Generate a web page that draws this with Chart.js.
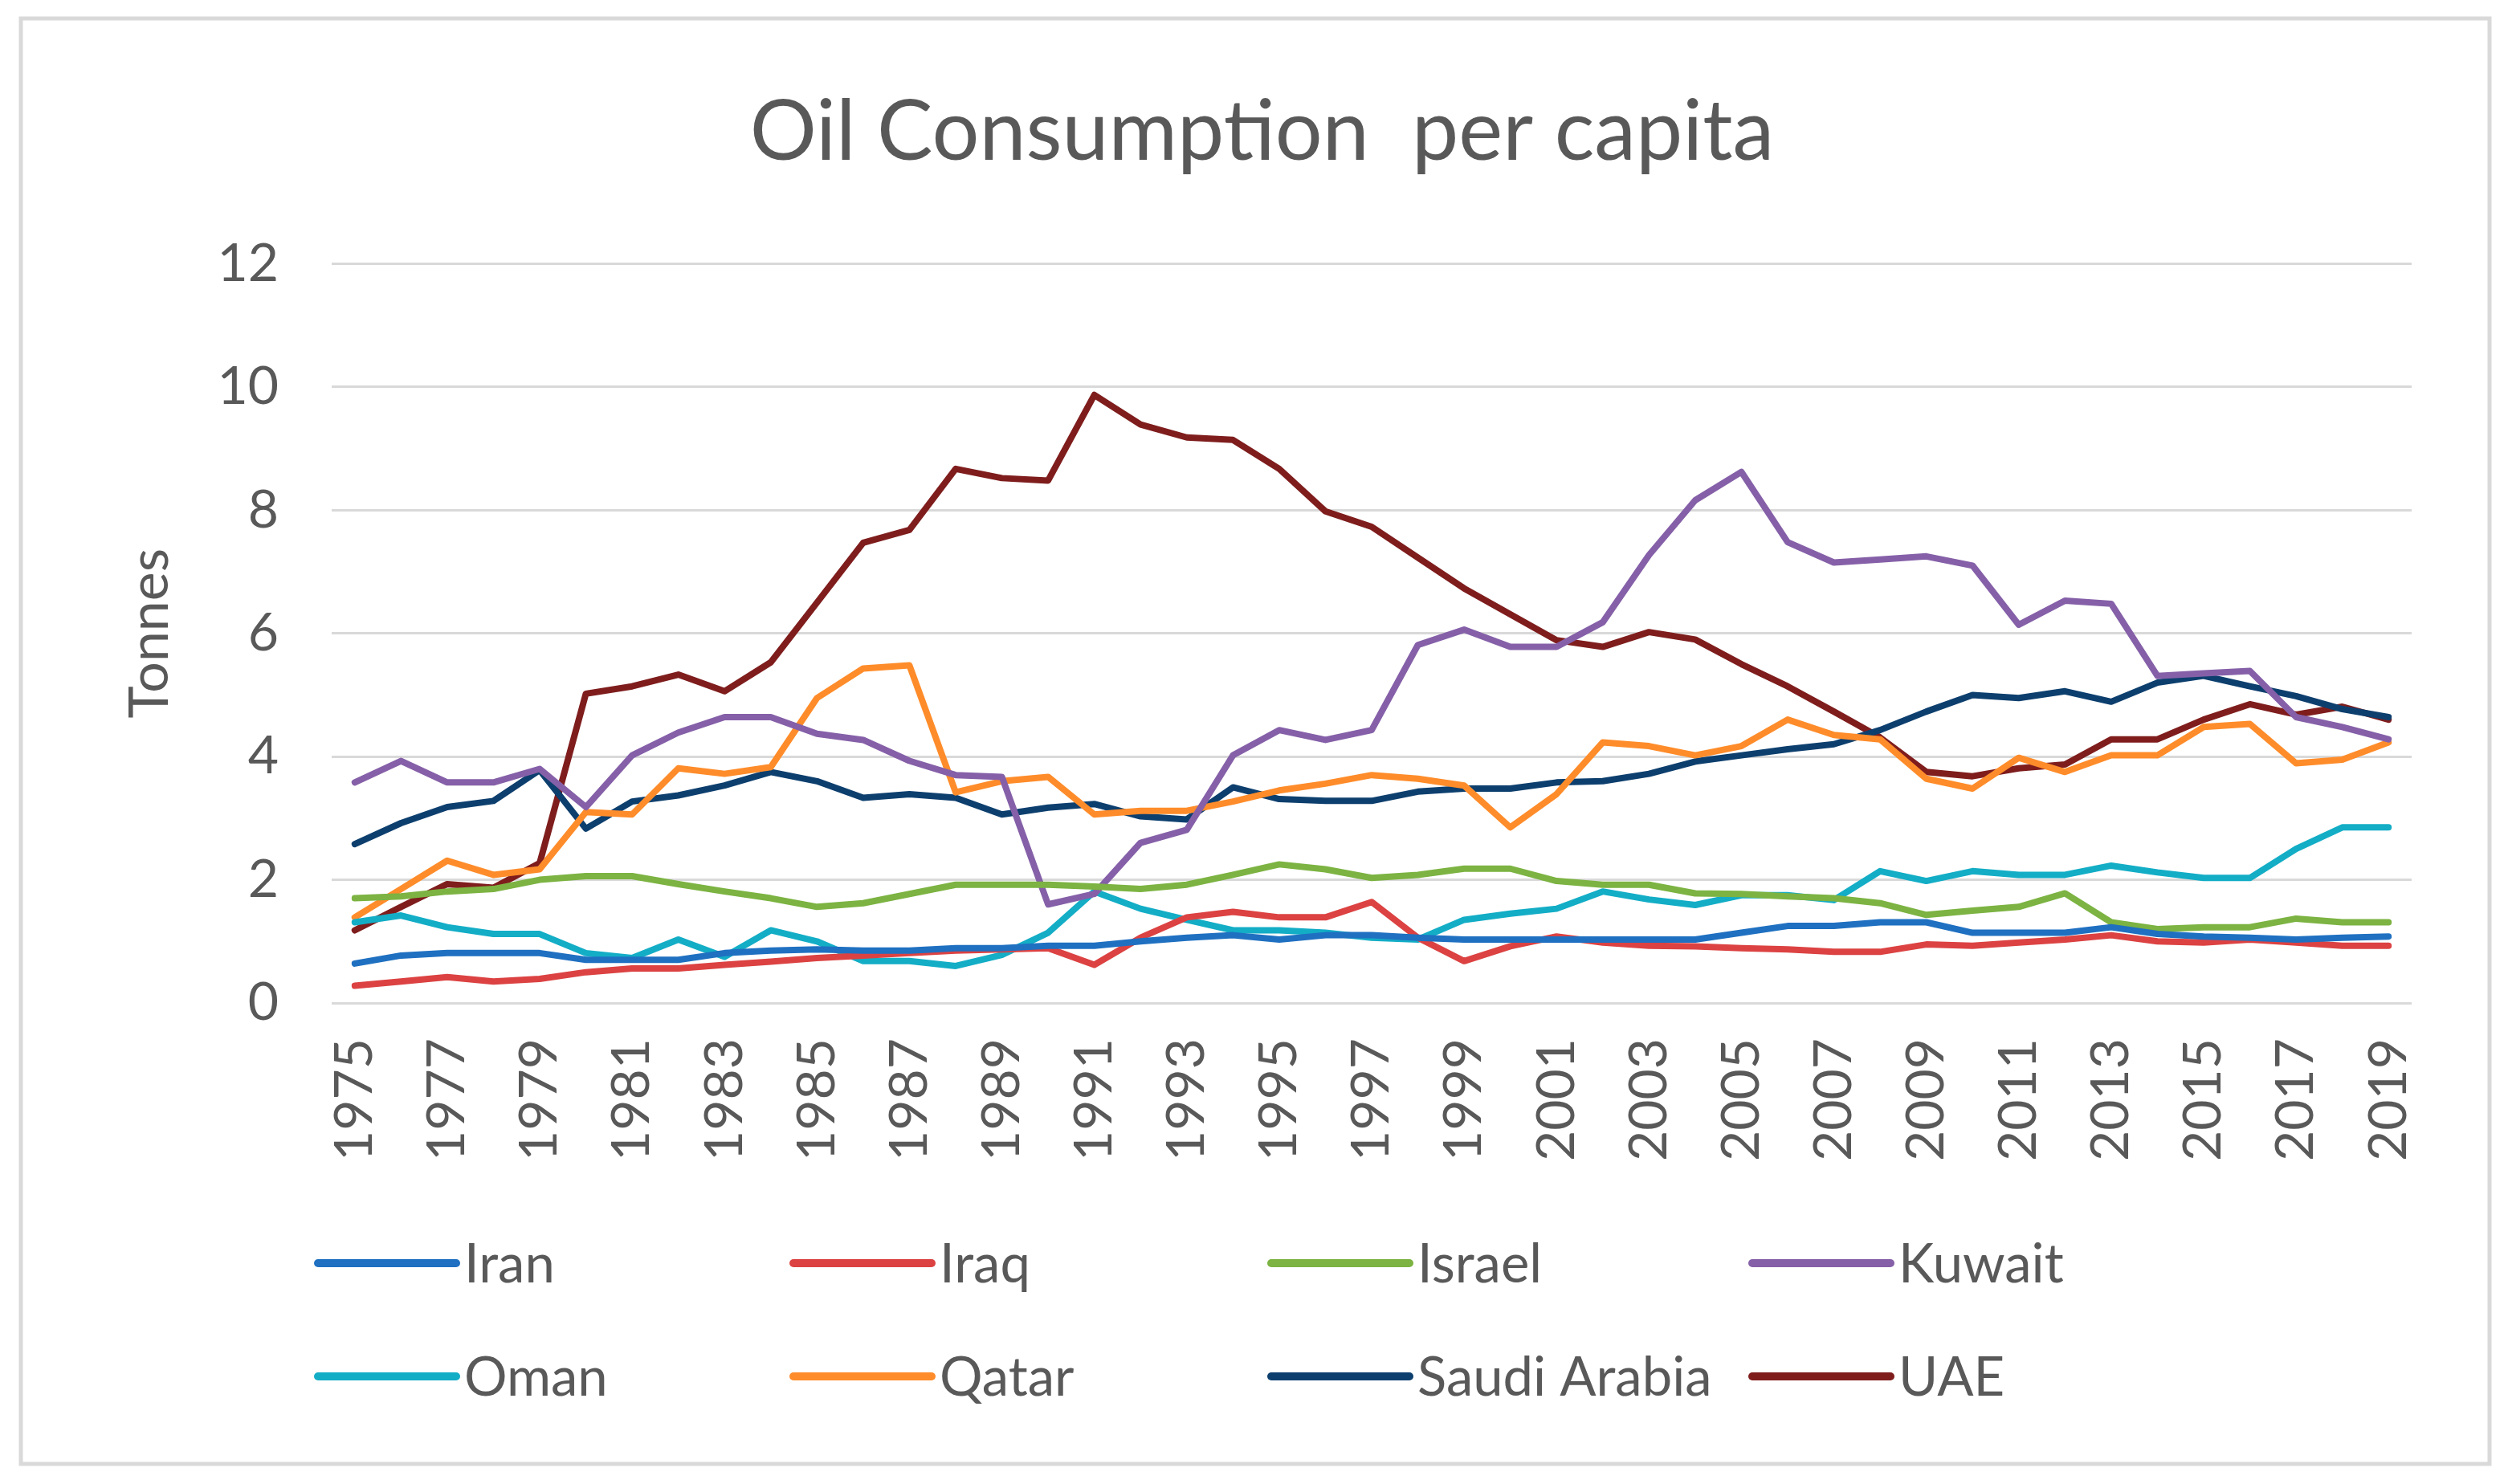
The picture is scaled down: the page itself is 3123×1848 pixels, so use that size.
<!DOCTYPE html>
<html>
<head>
<meta charset="utf-8">
<script src="https://cdn.jsdelivr.net/npm/chart.js@4.4.1/dist/chart.umd.min.js"></script>
<style>
  html, body { margin: 0; padding: 0; background: #ffffff; }
  canvas { display: block; }
</style>
</head>
<body>
<canvas id="c" width="3123" height="1848"></canvas>
<script>
const years = ['1975','1976','1977','1978','1979','1980','1981','1982','1983','1984','1985','1986','1987','1988','1989',
  '1990','1991','1992','1993','1994','1995','1996','1997','1998','1999','2000','2001','2002','2003','2004',
  '2005','2006','2007','2008','2009','2010','2011','2012','2013','2014','2015','2016','2017','2018','2019'];

const iran   = [0.64,0.77,0.81,0.81,0.81,0.70,0.70,0.70,0.81,0.85,0.87,0.85,0.85,0.89,0.89,
                0.93,0.93,1.00,1.06,1.10,1.03,1.10,1.10,1.06,1.03,1.03,1.03,1.03,1.03,1.03,
                1.14,1.25,1.25,1.31,1.31,1.14,1.14,1.14,1.23,1.12,1.08,1.06,1.03,1.06,1.08];
const iraq   = [0.28,0.35,0.42,0.35,0.39,0.50,0.56,0.56,0.62,0.67,0.73,0.77,0.81,0.85,0.87,
                0.89,0.62,1.06,1.39,1.48,1.39,1.39,1.64,1.06,0.68,0.92,1.08,0.98,0.93,0.92,
                0.89,0.87,0.83,0.83,0.95,0.93,0.98,1.03,1.10,1.00,0.98,1.03,0.98,0.93,0.93];
const israel = [1.70,1.73,1.81,1.85,2.00,2.06,2.06,1.93,1.81,1.70,1.56,1.62,1.77,1.92,1.92,
                1.92,1.89,1.85,1.92,2.08,2.25,2.17,2.03,2.08,2.18,2.18,1.98,1.92,1.92,1.78,
                1.77,1.73,1.70,1.62,1.43,1.50,1.56,1.78,1.31,1.20,1.23,1.23,1.37,1.31,1.31];
const kuwait = [3.58,3.93,3.58,3.58,3.80,3.18,4.02,4.39,4.64,4.64,4.37,4.27,3.93,3.70,3.67,
                1.60,1.77,2.60,2.81,4.02,4.43,4.27,4.43,5.81,6.06,5.78,5.78,6.18,7.27,8.16,
                8.62,7.48,7.15,7.20,7.25,7.10,6.14,6.53,6.48,5.31,5.35,5.39,4.64,4.48,4.28];
const oman   = [1.31,1.42,1.23,1.12,1.12,0.81,0.73,1.03,0.75,1.18,1.00,0.68,0.68,0.60,0.78,
                1.14,1.81,1.53,1.35,1.18,1.18,1.14,1.06,1.03,1.35,1.45,1.53,1.81,1.68,1.59,
                1.75,1.75,1.67,2.14,1.98,2.14,2.08,2.08,2.23,2.12,2.03,2.03,2.50,2.85,2.85];
const qatar  = [1.39,1.85,2.31,2.08,2.17,3.10,3.06,3.81,3.72,3.83,4.95,5.43,5.48,3.42,3.60,
                3.67,3.06,3.12,3.12,3.27,3.45,3.56,3.70,3.64,3.53,2.85,3.39,4.23,4.17,4.02,
                4.17,4.60,4.35,4.28,3.64,3.48,3.98,3.75,4.02,4.02,4.48,4.53,3.89,3.95,4.23];
const saudi  = [2.58,2.92,3.18,3.28,3.78,2.83,3.27,3.37,3.53,3.75,3.60,3.33,3.39,3.33,3.06,
                3.17,3.23,3.03,2.98,3.50,3.31,3.28,3.28,3.43,3.48,3.48,3.58,3.60,3.72,3.92,
                4.02,4.12,4.20,4.43,4.73,5.00,4.95,5.06,4.89,5.20,5.31,5.14,4.98,4.77,4.64];
const uae    = [1.18,1.56,1.93,1.87,2.27,5.02,5.14,5.33,5.06,5.53,6.50,7.47,7.68,8.67,8.52,
                8.48,9.87,9.39,9.18,9.14,8.67,7.98,7.73,7.23,6.73,6.31,5.89,5.78,6.02,5.90,
                5.50,5.14,4.73,4.31,3.75,3.68,3.81,3.87,4.28,4.28,4.60,4.85,4.68,4.81,4.60];

const seriesNames = ['Iran','Iraq','Israel','Kuwait','Oman','Qatar','Saudi Arabia','UAE'];
const seriesData  = [iran, iraq, israel, kuwait, oman, qatar, saudi, uae];
const seriesColors = ['#1f70c1','#dc4242','#7cb342','#8560a8','#13adc6','#ff8c2a','#0d3f6e','#7f1d1d'];
const yTicks = [0, 2, 4, 6, 8, 10, 12];

const TEXT = '#595959';
const FONT = 'Lato, "Open Sans", "Liberation Sans", sans-serif';

const framePlugin = {
  id: 'frame',
  beforeDraw(chart) {
    const ctx = chart.ctx;
    ctx.save();
    ctx.fillStyle = '#ffffff';
    ctx.fillRect(0, 0, chart.width, chart.height);
    ctx.strokeStyle = '#d9d9d9';
    ctx.lineWidth = 5;
    ctx.strokeRect(26, 23, 3074, 1800);
    ctx.restore();
  }
};

const legendPlugin = {
  id: 'gridLegend',
  afterDraw(chart) {
    const ctx = chart.ctx;
    const cols = [396, 988, 1583, 2182];
    const rows = [1573, 1714];
    ctx.save();
    ctx.font = '67px ' + FONT;
    ctx.textBaseline = 'middle';
    ctx.textAlign = 'left';
    chart.data.datasets.forEach((ds, i) => {
      const x = cols[i % 4];
      const y = rows[Math.floor(i / 4)];
      ctx.strokeStyle = ds.borderColor;
      ctx.lineWidth = 10;
      ctx.lineCap = 'round';
      ctx.beginPath();
      ctx.moveTo(x, y);
      ctx.lineTo(x + 172, y);
      ctx.stroke();
      ctx.fillStyle = TEXT;
      ctx.fillText(ds.label, x + 182, y + 2);
    });
    ctx.restore();
  }
};

new Chart(document.getElementById('c'), {
  type: 'line',
  data: {
    labels: years,
    datasets: seriesNames.map((name, i) => ({
      label: name,
      data: seriesData[i],
      borderColor: seriesColors[i],
      backgroundColor: seriesColors[i],
      borderWidth: 8,
      pointRadius: 0,
      pointHoverRadius: 0,
      tension: 0,
      fill: false,
      borderJoinStyle: 'round',
      borderCapStyle: 'round'
    }))
  },
  options: {
    responsive: false,
    animation: false,
    devicePixelRatio: 1,
    layout: { padding: { top: 40, left: 140, right: 120, bottom: 379 } },
    plugins: {
      legend: { display: false },
      tooltip: { enabled: false },
      title: {
        display: true,
        text: 'Oil Consumption  per capita',
        color: TEXT,
        font: { family: FONT, size: 104, weight: 'normal', lineHeight: 1.1 },
        padding: { top: 68, bottom: 106 }
      }
    },
    scales: {
      x: {
        type: 'category',
        offset: true,
        grid: { display: false, drawTicks: false },
        border: { display: false },
        ticks: {
          autoSkip: false,
          minRotation: 90,
          maxRotation: 90,
          padding: 44,
          color: TEXT,
          font: { family: FONT, size: 66 },
          callback: (v, idx) => (idx % 2 === 0 ? years[idx] : '')
        },
        afterFit: (s) => { s.height = 220; }
      },
      y: {
        min: 0,
        max: 12,
        afterBuildTicks: (s) => { s.ticks = yTicks.map(v => ({ value: v })); },
        grid: { color: '#d9d9d9', lineWidth: 3, drawTicks: false },
        border: { display: false },
        ticks: {
          padding: 66,
          color: TEXT,
          font: { family: FONT, size: 66 }
        },
        title: {
          display: true,
          text: 'Tonnes',
          color: TEXT,
          font: { family: FONT, size: 68 },
          padding: { top: 6, bottom: 0 }
        },
        afterFit: (s) => { s.width = 273; }
      }
    }
  },
  plugins: [framePlugin, legendPlugin]
});
</script>
</body>
</html>
